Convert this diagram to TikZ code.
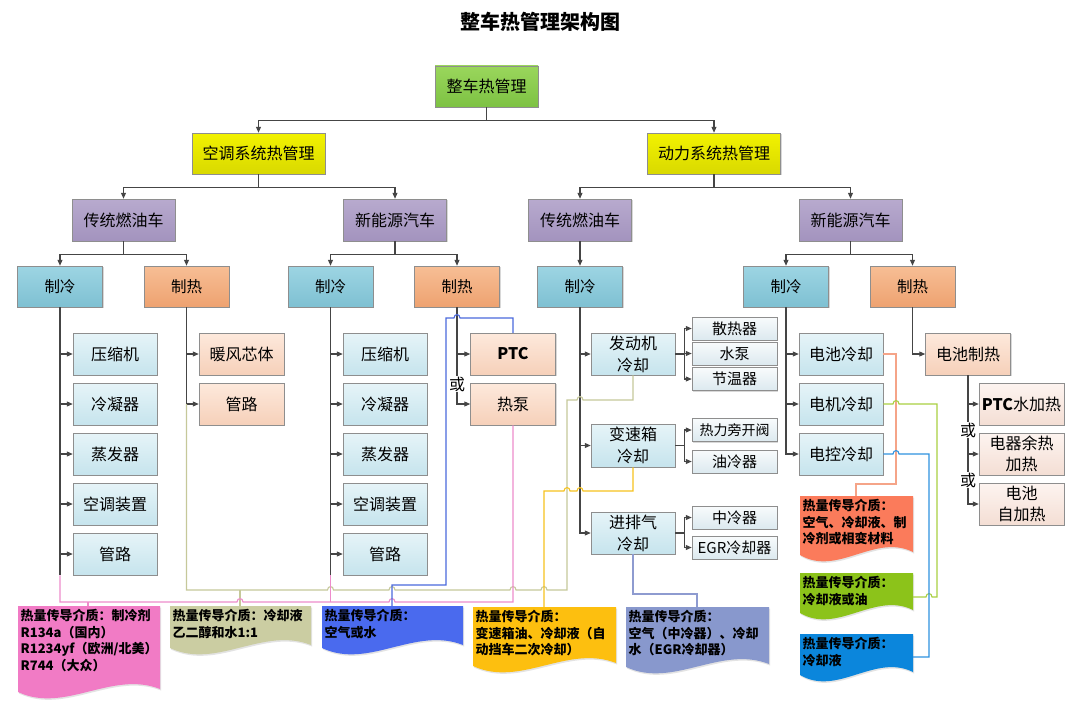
\documentclass[tikz,border=0pt]{standalone}
\usepackage{fontspec}
\setmainfont{Noto Sans CJK SC}
\usetikzlibrary{arrows.meta,shadows}

\definecolor{rootT}{HTML}{9AD65C}
\definecolor{rootB}{HTML}{7DC243}
\definecolor{lOneT}{HTML}{F2F200}
\definecolor{lOneB}{HTML}{D9D900}
\definecolor{lTwoT}{HTML}{B8AACE}
\definecolor{lTwoB}{HTML}{A393BE}
\definecolor{coolT}{HTML}{9DD5E3}
\definecolor{coolB}{HTML}{7EC0D2}
\definecolor{heatT}{HTML}{F7BE95}
\definecolor{heatB}{HTML}{EEA270}
\definecolor{lcT}{HTML}{E6F4F8}
\definecolor{lcB}{HTML}{C6E4ED}
\definecolor{lhT}{HTML}{FDE9DC}
\definecolor{lhB}{HTML}{F6D0B9}
\definecolor{slT}{HTML}{F8FBFC}
\definecolor{slB}{HTML}{DCE9EF}
\definecolor{lpT}{HTML}{FDF4F0}
\definecolor{lpB}{HTML}{F4DED4}
\definecolor{bordc}{HTML}{8E8E8E}
\definecolor{linec}{HTML}{454545}
\definecolor{pinkL}{HTML}{EE8CCB}
\definecolor{oliveL}{HTML}{C6C89A}
\definecolor{blueL}{HTML}{4B69DD}
\definecolor{yelL}{HTML}{F7C21E}
\definecolor{purL}{HTML}{8E9BD0}
\definecolor{salL}{HTML}{F5A488}
\definecolor{grnL}{HTML}{A9D042}
\definecolor{lblL}{HTML}{2F92E0}
\definecolor{pinkF}{HTML}{F17BC5}
\definecolor{oliveF}{HTML}{CBCDA2}
\definecolor{blueF}{HTML}{4A6AEE}
\definecolor{orangeF}{HTML}{FDBF0F}
\definecolor{purF}{HTML}{8898CD}
\definecolor{salF}{HTML}{FB7B5B}
\definecolor{grnF}{HTML}{8CC31A}
\definecolor{lblF}{HTML}{0B86DC}

\tikzset{
  base/.style={draw=bordc, line width=0.5pt, align=center, inner sep=1pt,
    font=\fontsize{16}{20}\selectfont,
    drop shadow={shadow xshift=1.2pt, shadow yshift=-1.2pt, opacity=0.3}},
  rootbox/.style={base, top color=rootT, bottom color=rootB, minimum width=103pt, minimum height=41pt},
  lonebox/.style={base, top color=lOneT, bottom color=lOneB, minimum width=133pt, minimum height=41pt},
  ltwobox/.style={base, top color=lTwoT, bottom color=lTwoB, minimum width=103pt, minimum height=42pt},
  coolbox/.style={base, top color=coolT, bottom color=coolB, minimum width=85pt, minimum height=41pt, font=\fontsize{15.5}{19}\selectfont},
  heatbox/.style={base, top color=heatT, bottom color=heatB, minimum width=85pt, minimum height=41pt, font=\fontsize{15.5}{19}\selectfont},
  leafc/.style={base, top color=lcT, bottom color=lcB, minimum width=84pt, minimum height=42pt},
  leafh/.style={base, top color=lhT, bottom color=lhB, minimum width=85pt, minimum height=42pt},
  leafp/.style={base, top color=lpT, bottom color=lpB, minimum width=85pt, minimum height=42pt, font=\fontsize{16}{21}\selectfont},
  twoline/.style={font=\fontsize{16}{22}\selectfont},
  subleaf/.style={base, top color=slT, bottom color=slB, minimum width=85pt, minimum height=23pt, inner sep=0pt, font=\fontsize{15}{17}\selectfont},
  orn/.style={inner sep=0pt, font=\fontsize{16}{16}\selectfont},
  tline/.style={draw=linec, line width=1.1pt},
  tarr/.style={tline, -{Triangle[length=6pt,width=5pt]}},
  cline/.style={line width=1.1pt},
  calltext/.style={anchor=north west, inner sep=0pt, align=left, font=\bfseries\fontsize{13}{16.5}\selectfont},
}

\newcommand\docbox[7]{%
  \fill[#5, drop shadow={shadow xshift=1pt, shadow yshift=-1.5pt, opacity=0.22}]
    (#1,#3) -- (#2,#3) -- (#2,{#4-3})
    .. controls ({#1+0.66*(#2-#1)},{#4-22}) and ({#1+0.33*(#2-#1)},{#4+22}) .. (#1,#4) -- cycle;
  \node[calltext] (#6) at ({#1+2.5},{#3+3}) {#7};
}

\begin{document}
\begin{tikzpicture}[x=1pt,y=-1pt]
\useasboundingbox[fill=white] (0,0) rectangle (1080,725);

\node[font=\bfseries\fontsize{20}{24}\selectfont] (title) at (540,22) {整车热管理架构图};

% levels
\node[rootbox] (root) at (486.5,86.5) {整车热管理};
\node[lonebox] (ac) at (258.5,153.5) {空调系统热管理};
\node[lonebox] (pw) at (714,153.5) {动力系统热管理};
\node[ltwobox] (ta) at (123.5,220) {传统燃油车};
\node[ltwobox] (na) at (395,220) {新能源汽车};
\node[ltwobox] (tp) at (580,220) {传统燃油车};
\node[ltwobox] (np) at (850.5,220) {新能源汽车};
\node[coolbox] (c1) at (60,286.5) {制冷};
\node[heatbox] (h1) at (186.5,286.5) {制热};
\node[coolbox] (c2) at (330.5,286.5) {制冷};
\node[heatbox] (h2) at (457,286.5) {制热};
\node[coolbox] (c3) at (580,286.5) {制冷};
\node[coolbox] (c4) at (786,286.5) {制冷};
\node[heatbox] (h4) at (912.5,286.5) {制热};

% left leaves
\node[leafc] (a1) at (115,354) {压缩机};
\node[leafc] (a2) at (115,404) {冷凝器};
\node[leafc] (a3) at (115,454) {蒸发器};
\node[leafc] (a4) at (115,504) {空调装置};
\node[leafc] (a5) at (115,554) {管路};
\node[leafh] (ha1) at (241.5,354) {暖风芯体};
\node[leafh] (ha2) at (241.5,404) {管路};
\node[leafc] (b1) at (385,354) {压缩机};
\node[leafc] (b2) at (385,404) {冷凝器};
\node[leafc] (b3) at (385,454) {蒸发器};
\node[leafc] (b4) at (385,504) {空调装置};
\node[leafc] (b5) at (385,554) {管路};
\node[leafh] (ptc) at (513,354) {\textbf{PTC}};
\node[leafh] (hp) at (513,404) {热泵};

% power leaves
\node[leafc, twoline] (e1) at (633,354) {发动机\\冷却};
\node[leafc, twoline, minimum height=43pt] (e2) at (633,445.5) {变速箱\\冷却};
\node[leafc, twoline] (e3) at (633,533) {进排气\\冷却};
\node[subleaf] (s1) at (734.5,328.5) {散热器};
\node[subleaf] (s2) at (734.5,353.5) {水泵};
\node[subleaf] (s3) at (734.5,379) {节温器};
\node[subleaf, font=\fontsize{14}{16}\selectfont] (s4) at (734.5,430) {热力旁开阀};
\node[subleaf] (s5) at (734.5,461.5) {油冷器};
\node[subleaf] (s6) at (734.5,517.5) {中冷器};
\node[subleaf] (s7) at (734.5,547.5) {EGR冷却器};

\node[leafc] (n1) at (841,354) {电池冷却};
\node[leafc] (n2) at (841,404) {电机冷却};
\node[leafc] (n3) at (841,454) {电控冷却};
\node[leafh] (bh) at (968,354) {电池制热};
\node[leafp] (r1) at (1021.5,404) {\textbf{PTC}水加热};
\node[leafp] (r2) at (1021.5,454) {电器余热\\加热};
\node[leafp] (r3) at (1021.5,504) {电池\\自加热};

\node[orn] (or1) at (457,384) {或};
\node[orn] (or2) at (968,430) {或};
\node[orn] (or3) at (968,480) {或};

% tree connectors
\draw[tarr] (root.south) -- ++(0,13) -| (ac.north);
\draw[tarr] (root.south) -- ++(0,13) -| (pw.north);
\draw[tarr] (ac.south) -- ++(0,13) -| (ta.north);
\draw[tarr] (ac.south) -- ++(0,13) -| (na.north);
\draw[tarr] (pw.south) -- ++(0,13) -| (tp.north);
\draw[tarr] (pw.south) -- ++(0,13) -| (np.north);
\draw[tarr] (ta.south) -- ++(0,13) -| (c1.north);
\draw[tarr] (ta.south) -- ++(0,13) -| (h1.north);
\draw[tarr] (na.south) -- ++(0,13) -| (c2.north);
\draw[tarr] (na.south) -- ++(0,13) -| (h2.north);
\draw[tarr] (tp.south) -- (c3.north);
\draw[tarr] (np.south) -- ++(0,13) -| (c4.north);
\draw[tarr] (np.south) -- ++(0,13) -| (h4.north);

\draw[tline] (c1.south) -- (c1.south |- a5.south);
\foreach \n in {a1,a2,a3,a4,a5} \draw[tarr] (c1.south |- \n.west) -- (\n.west);
\draw[tline] (h1.south) -- (h1.south |- ha2.west);
\foreach \n in {ha1,ha2} \draw[tarr] (h1.south |- \n.west) -- (\n.west);
\draw[tline] (c2.south) -- (c2.south |- b5.south);
\foreach \n in {b1,b2,b3,b4,b5} \draw[tarr] (c2.south |- \n.west) -- (\n.west);
\draw[tline] (h2.south) -- (or1.north);
\draw[tarr] (h2.south |- ptc.west) -- (ptc.west);
\draw[tarr] (or1.south) |- (hp.west);

\draw[tarr] (c3.south) |- (e3.west);
\draw[tarr] (c3.south |- e1.west) -- (e1.west);
\draw[tarr] (c3.south |- e2.west) -- (e2.west);
\draw[tline] (e1.east) -- ++(9,0) coordinate (j1);
\draw[tline] (e2.east) -- ++(9,0) coordinate (j2);
\draw[tline] (e3.east) -- ++(9,0) coordinate (j3);
\foreach \n in {s1,s2,s3} \draw[tarr] (j1) |- (\n.west);
\foreach \n in {s4,s5} \draw[tarr] (j2) |- (\n.west);
\foreach \n in {s6,s7} \draw[tarr] (j3) |- (\n.west);

\draw[tarr] (c4.south) |- (n3.west);
\draw[tarr] (c4.south |- n1.west) -- (n1.west);
\draw[tarr] (c4.south |- n2.west) -- (n2.west);
\draw[tarr] (h4.south) |- (bh.west);
\draw[tline] (bh.south) -- (or2.north);
\draw[tarr] (bh.south |- r1.west) -- (r1.west);
\draw[tline] (or2.south) -- (or3.north);
\draw[tarr] (or2.south |- r2.west) -- (r2.west);
\draw[tarr] (or3.south) |- (r3.west);

% callouts
\docbox{18}{160}{606}{692}{pinkF}{m1}{热量传导介质：制冷剂\\R134a（国内）\\R1234yf（欧洲/北美）\\R744（大众）}
\docbox{170}{311}{606}{648}{oliveF}{m2}{热量传导介质：冷却液\\乙二醇和水1:1}
\docbox{322}{463}{606}{648}{blueF}{m3}{热量传导介质：\\空气或水}
\docbox{473}{616}{607}{666}{orangeF}{m4}{热量传导介质：\\变速箱油、冷却液（自\\动挡车二次冷却）}
\docbox{626}{769}{607}{667}{purF}{m5}{热量传导介质：\\空气（中冷器）、冷却\\水（EGR冷却器）}
\docbox{800}{913}{496}{555}{salF}{m6}{热量传导介质：\\空气、冷却液、制\\冷剂或相变材料}
\docbox{800}{913}{573}{613}{grnF}{m7}{热量传导介质：\\冷却液或油}
\docbox{800}{913}{634}{675}{lblF}{m8}{热量传导介质：\\冷却液}

\coordinate (m1top) at (88,606);
\coordinate (m2top) at (240,606);
\coordinate (m3top) at (392,606);
\coordinate (m4top) at (544,607);
\coordinate (m5top) at (697,607);
\coordinate (m6top) at (856,496);
\coordinate (m7e) at (913,597);
\coordinate (m8e) at (913,657);

% coloured medium lines
\draw[cline, oliveL] (h1.south |- ha2.west) -- (186.5,590) -- (327.5,590)
  .. controls (327.5,585.5) and (333.5,585.5) .. (333.5,590) -- (389,590)
  .. controls (389,585.5) and (395,585.5) .. (395,590) -- (510,590)
  .. controls (510,585.5) and (516,585.5) .. (516,590) -- (541,590)
  .. controls (541,585.5) and (547,585.5) .. (547,590) -- (567,590) -- (567,400) -- (577,400)
  .. controls (577,395.5) and (583,395.5) .. (583,400) -- (633,400) -- (e1.south);
\draw[cline, oliveL] (240,590) -- (m2top);

\draw[cline, pinkL] (c1.south |- a5.south) -- (60,602) -- (237,602)
  .. controls (237,597.5) and (243,597.5) .. (243,602) -- (389,602)
  .. controls (389,597.5) and (395,597.5) .. (395,602) -- (513,602) -- (hp.south);
\draw[cline, pinkL] (c2.south |- b5.south) -- (330.5,602);
\draw[cline, pinkL] (88,602) -- (m1top);

\draw[cline, blueL] (ptc.north) -- (513,318) -- (460,318)
  .. controls (460,313.5) and (454,313.5) .. (454,318) -- (446,318) -- (446,585) -- (392,585) -- (m3top);

\draw[cline, yelL] (e2.south) -- (633,491) -- (583,491)
  .. controls (583,486.5) and (577,486.5) .. (577,491) -- (570,491)
  .. controls (570,486.5) and (564,486.5) .. (564,491) -- (544,491) -- (m4top);

\draw[cline, purL] (e3.south) -- (633,594) -- (697,594) -- (m5top);

\draw[cline, salL] (n1.east) -- (896,354) -- (896,484) -- (856,484) -- (m6top);
\draw[cline, grnL] (n2.east) -- (893,404)
  .. controls (893,399.5) and (899,399.5) .. (899,404) -- (937,404) -- (937,597) -- (932,597)
  .. controls (932,592.5) and (926,592.5) .. (926,597) -- (m7e);
\draw[cline, lblL] (n3.east) -- (893,454)
  .. controls (893,449.5) and (899,449.5) .. (899,454) -- (929,454) -- (929,657) -- (m8e);

\end{tikzpicture}
\end{document}
